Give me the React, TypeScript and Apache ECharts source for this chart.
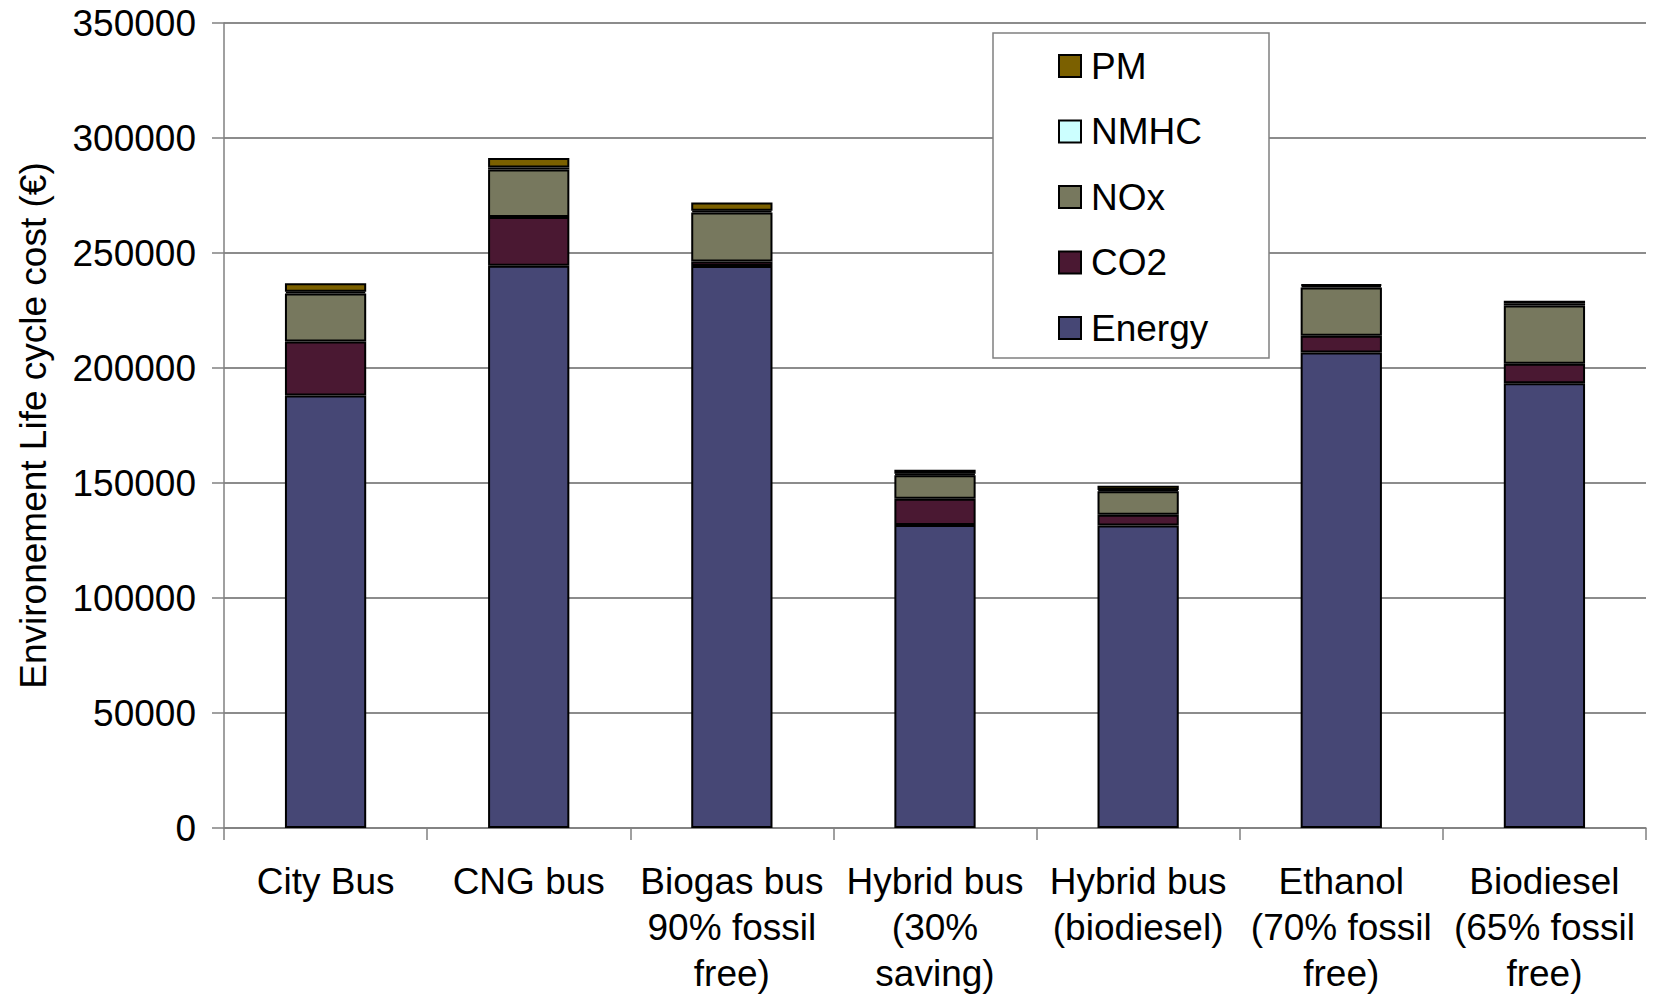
import React, { useEffect, useRef } from "react";
import * as echarts from "echarts";

const categories = [
  "City Bus",
  "CNG bus",
  "Biogas bus\n90% fossil\nfree)",
  "Hybrid bus\n(30%\nsaving)",
  "Hybrid bus\n(biodiesel)",
  "Ethanol\n(70% fossil\nfree)",
  "Biodiesel\n(65% fossil\nfree)",
];
const energy = [188000, 244500, 244300, 131700, 131500, 206700, 193400];
const co2 = [23500, 21200, 2000, 11500, 4700, 7300, 8500];
const nox = [20900, 20600, 21300, 10200, 10200, 21000, 25300];
const nmhc = [800, 900, 800, 600, 600, 800, 1000];
const pm = [3600, 4100, 3600, 1800, 1800, 500, 1000];
const legendOrder = ["PM", "NMHC", "NOx", "CO2", "Energy"];

const FONT = "'Liberation Sans', Arial, sans-serif";

export default function App() {
  const ref = useRef<HTMLDivElement>(null);
  useEffect(() => {
    if (!ref.current) return;
    const chart = echarts.init(ref.current, null, { renderer: "svg" });
    const mk = (name: string, data: number[], color: string) => ({
      name,
      type: "bar",
      stack: "total",
      data,
      barWidth: "40%",
      itemStyle: { color, borderColor: "#000", borderWidth: 2 },
      emphasis: { disabled: true },
    });
    chart.setOption({
      animation: false,
      textStyle: { fontFamily: FONT },
      grid: { left: 224, right: 8, top: 23, bottom: 166, containLabel: false },
      graphic: [
        {
          type: "rect",
          z: 3,
          shape: { x: 993, y: 33, width: 276, height: 325 },
          style: { fill: "#fff", stroke: "#808080", lineWidth: 1.5 },
        },
      ],
      legend: {
        data: legendOrder,
        orient: "vertical",
        left: 1058,
        top: 46,
        padding: 0,
        itemWidth: 22,
        itemHeight: 22,
        itemGap: 25.5,
        z: 5,
        icon: "rect",
        textStyle: { fontSize: 37, fontFamily: FONT, color: "#000", lineHeight: 40, padding: [0, 0, 0, 5] },
      },
      xAxis: {
        type: "category",
        data: categories,
        axisLine: { lineStyle: { color: "#808080", width: 1.5 } },
        axisTick: { show: true, length: 12, lineStyle: { color: "#808080", width: 1.5 } },
        axisLabel: {
          interval: 0,
          fontSize: 37,
          fontFamily: FONT,
          color: "#000",
          lineHeight: 46,
          margin: 30,
        },
      },
      yAxis: {
        type: "value",
        min: 0,
        max: 350000,
        interval: 50000,
        name: "Environement Life cycle cost (€)",
        nameLocation: "middle",
        nameRotate: 90,
        nameGap: 172,
        nameTextStyle: { fontSize: 37, fontFamily: FONT, color: "#000" },
        axisLine: { show: true, lineStyle: { color: "#808080", width: 1.5 } },
        axisTick: { show: true, length: 12, lineStyle: { color: "#808080", width: 1.5 } },
        splitLine: { lineStyle: { color: "#666", width: 1.5 } },
        axisLabel: {
          fontSize: 37,
          fontFamily: FONT,
          color: "#000",
          margin: 28,
          formatter: (v: number) => String(v),
        },
      },
      series: [
        mk("Energy", energy, "#464775"),
        mk("CO2", co2, "#4A1832"),
        mk("NOx", nox, "#77785E"),
        mk("NMHC", nmhc, "#CCFFFF"),
        mk("PM", pm, "#7B6000"),
      ],
    });
    return () => chart.dispose();
  }, []);
  return (
    <div
      ref={ref}
      style={{ position: "absolute", left: 0, top: 0, width: 1654, height: 996, background: "#fff" }}
    />
  );
}
